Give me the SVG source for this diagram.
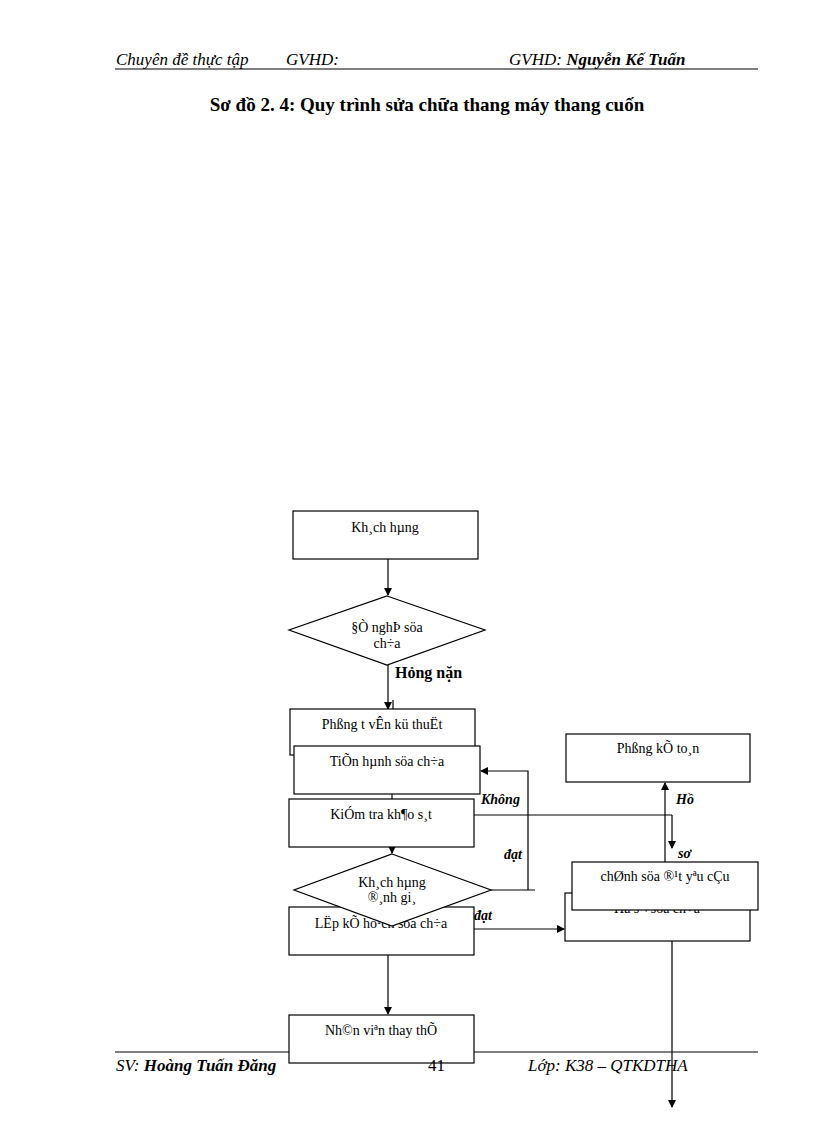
<svg xmlns="http://www.w3.org/2000/svg" width="816" height="1123" viewBox="0 0 816 1123">
<style>
.b{fill:#fff;stroke:#000;stroke-width:1.2}
.l{fill:none;stroke:#000;stroke-width:1.2}
.t{font-family:"Liberation Serif",serif;font-size:14px;text-anchor:middle}
.hd{font-family:"Liberation Serif",serif;font-size:17px;font-style:italic}
.lb{font-family:"Liberation Serif",serif;font-size:14px;font-weight:bold;font-style:italic}
</style>
<defs><marker id="a" markerWidth="8" markerHeight="8" refX="7" refY="4" orient="auto" markerUnits="userSpaceOnUse"><path d="M0,0L8,4L0,8z"/></marker></defs>
<rect width="816" height="1123" fill="#fff"/>
<g id="header">
<text class="hd" x="116" y="65">Chuyên đề thực tập</text>
<text class="hd" x="286" y="65">GVHD:</text>
<text class="hd" x="509" y="65">GVHD: <tspan font-weight="bold">Nguyễn Kế Tuấn</tspan></text>
<line x1="115" y1="69" x2="758" y2="69" stroke="#000"/>
<text x="427" y="111" font-family="Liberation Serif,serif" font-size="19" font-weight="bold" text-anchor="middle">Sơ đồ 2. 4: Quy trình sửa chữa thang máy thang cuốn</text>
</g>
<g id="connectors">
<line class="l" x1="388" y1="559" x2="388" y2="595" marker-end="url(#a)"/>
<line class="l" x1="388" y1="665" x2="388" y2="709" marker-end="url(#a)"/>
<line class="l" x1="393" y1="700" x2="393" y2="745" marker-end="url(#a)"/>
<polyline class="l" points="491,890 535,890"/>
<polyline class="l" points="528,890 528,771 481,771" marker-end="url(#a)"/>
<line class="l" x1="392" y1="794" x2="392" y2="853" marker-end="url(#a)"/>
<line class="l" x1="474" y1="815" x2="672" y2="815"/>
<line class="l" x1="392" y1="929" x2="564" y2="929" marker-end="url(#a)"/>
<line class="l" x1="665" y1="862" x2="665" y2="783" marker-end="url(#a)"/>
<line class="l" x1="672" y1="815" x2="672" y2="848" marker-end="url(#a)"/>
<line class="l" x1="672" y1="941" x2="672" y2="1107" marker-end="url(#a)"/>
<line class="l" x1="388" y1="955" x2="388" y2="1014" marker-end="url(#a)"/>
</g>
<g id="n1"><rect class="b" x="293" y="511" width="185" height="48"/><text class="t" x="385" y="532">Kh¸ch hµng</text></g>
<g id="n2"><polygon class="b" points="387,596 485,630 387,665 289,630"/><text class="t" x="387" y="632">§Ò nghÞ söa</text><text class="t" x="387" y="648">ch÷a</text></g>
<text x="395" y="678" font-family="Liberation Serif,serif" font-size="16" font-weight="bold">Hỏng nặn</text>
<g id="n3"><rect class="b" x="290" y="709" width="185" height="46"/><text class="t" x="382" y="729">Phßng t  vÊn kü thuËt</text></g>
<g id="n4"><rect class="b" x="294" y="746" width="186" height="48"/><text class="t" x="387" y="766">TiÕn hµnh  söa ch÷a</text></g>
<g id="n5"><rect class="b" x="289" y="799" width="185" height="48"/><text class="t" x="381" y="819">KiÓm tra kh¶o s¸t</text></g>
<g id="n7"><rect class="b" x="289" y="907" width="185" height="48"/><text class="t" x="381" y="928">LËp kÕ ho¹ch söa ch÷a</text></g>
<g id="n6"><polygon class="b" points="392,854 491,890 392,926 294,890"/><text class="t" x="392" y="887" font-size="13">Kh¸ch hµng</text><text class="t" x="392" y="902" font-size="13">®¸nh gi¸</text></g>
<text class="lb" x="481" y="804">Không</text>
<text class="lb" x="504" y="859">đạt</text>
<text class="lb" x="474" y="920">đạt</text>
<g id="n8"><rect class="b" x="566" y="734" width="184" height="48"/><text class="t" x="658" y="753">Phßng kÕ to¸n</text></g>
<g id="n9"><rect class="b" x="565" y="893" width="185" height="48"/><text class="t" x="657" y="913">Hå s¬ söa ch÷a</text></g>
<g id="n10"><rect class="b" x="572" y="862" width="186" height="48"/><text class="t" x="665" y="881">chØnh söa ®¹t yªu cÇu</text></g>
<text class="lb" x="676" y="804">Hồ</text>
<text class="lb" x="678" y="858">sơ</text>
<g id="n11"><rect class="b" x="289" y="1015" width="185" height="48"/><text class="t" x="381" y="1035">Nh©n viªn thay thÕ</text></g>
<g id="footer">
<line x1="115" y1="1052" x2="289" y2="1052" stroke="#000"/>
<line x1="474" y1="1052" x2="758" y2="1052" stroke="#000"/>
<text class="hd" x="116" y="1071">SV: <tspan font-weight="bold">Hoàng Tuấn Đăng</tspan></text>
<text class="hd" x="428" y="1071" style="font-style:normal">41</text>
<text class="hd" x="528" y="1071">Lớp: K38 – QTKDTHA</text>
</g>
</svg>
